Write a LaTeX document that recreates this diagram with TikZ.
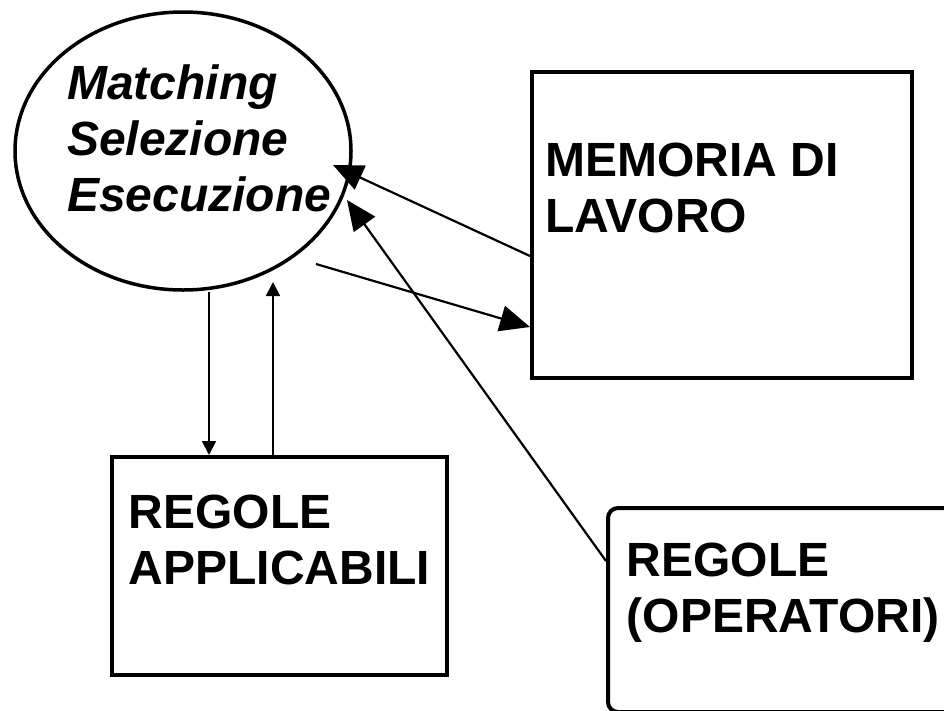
\documentclass[tikz,border=0pt]{standalone}
\usepackage{fontspec}
\setmainfont{Liberation Sans}
\usepackage{tikz}
\usetikzlibrary{arrows.meta,shapes.geometric,positioning}
\tikzstyle{bubble}=[draw,ellipse,line width=3.5pt,minimum width=336pt,minimum height=278pt,inner sep=0pt]
\tikzstyle{box}=[draw,rectangle,line width=4pt,inner sep=0pt]
\tikzstyle{boxtext}=[anchor=north west,inner sep=0pt,align=left,font=\fontsize{48}{56}\selectfont\bfseries]
\tikzstyle{bigarrow}=[line width=2.2pt,-{Triangle[length=30pt,width=26pt]}]
\tikzstyle{smallarrow}=[line width=1.8pt,-{Triangle[length=14pt,width=14pt]}]

\begin{document}
\begin{tikzpicture}[x=1pt,y=-1pt]
\useasboundingbox (0,0) rectangle (944,710);
\clip (0,0) rectangle (944,710);
% the cycle and the three stores
\draw (183,151) node [bubble] (cycle) {};
\draw (722,225) node [box, minimum width=380pt, minimum height=306pt] (mem) {};
\draw (279.5,566) node [box, minimum width=335pt, minimum height=218pt] (appl) {};
\draw (794,610) node [box, rounded corners=10pt, minimum width=372pt, minimum height=204pt] (oper) {};
\draw (67,65) node [boxtext, font=\fontsize{48}{56}\selectfont\bfseries\itshape] (cycletext) {Matching\\Selezione\\Esecuzione};
\draw (545,143) node [boxtext] (memtext) {MEMORIA DI\\LAVORO};
\draw (128.5,495) node [boxtext] (appltext) {REGOLE\\APPLICABILI};
\draw (626.5,543) node [boxtext] (opertext) {REGOLE\\(OPERATORI)};
% free ends near the ellipse
\coordinate (memin) at (333,165);
\coordinate (memout) at (316,264);
\coordinate (operin) at (347,200);
\coordinate (applin) at (273,282);
\draw[bigarrow] ([yshift=-31pt]mem.west) -- (memin);
\draw[bigarrow] (memout) -- ([yshift=-102pt]mem.west);
\draw[bigarrow] ([yshift=-55pt]oper.north west) -- (operin);
\draw[smallarrow] ([xshift=26pt]cycle.south) -- ([xshift=-70.5pt]appl.north);
\draw[smallarrow] ([xshift=-6.5pt]appl.north) -- (applin);
\end{tikzpicture}
\end{document}
